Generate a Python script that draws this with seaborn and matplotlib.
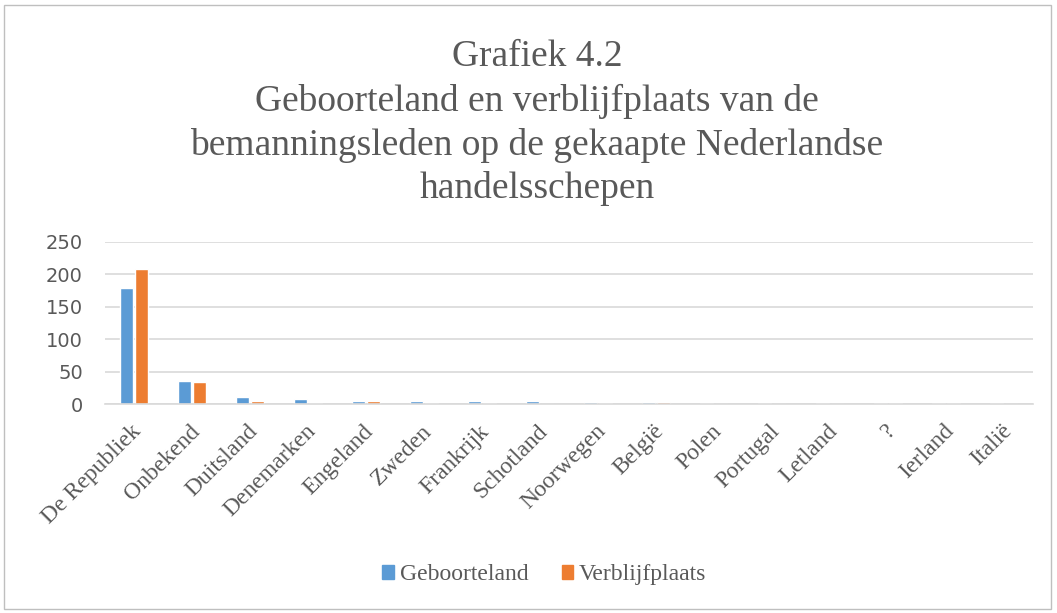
import matplotlib.pyplot as plt
import matplotlib.patches as mpatches
import matplotlib.transforms as mtransforms
import pandas as pd
import seaborn as sns

# values
landen = ["De Republiek", "Onbekend", "Duitsland", "Denemarken", "Engeland", "Zweden",
          "Frankrijk", "Schotland", "Noorwegen", "België", "Polen", "Portugal",
          "Letland", "?", "Ierland", "Italië"]
geboorteland = [179, 35, 11, 7, 5, 5, 4, 4, 3, 3, 2, 1, 1, 1, 1, 1]
verblijfplaats = [208, 34, 4, 2, 4, 1, 1, 0, 1, 3, 0, 0, 0, 1, 1, 0]

df = pd.DataFrame({
    "land": landen * 2,
    "aantal": geboorteland + verblijfplaats,
    "soort": ["Geboorteland"] * len(landen) + ["Verblijfplaats"] * len(landen),
})

sns.set_style("white")
serif = ["Liberation Serif", "DejaVu Serif"]

fig = plt.figure(figsize=(10.57, 6.13), dpi=100)
ax = fig.add_axes([105 / 1057, 209 / 613, 928 / 1057, 162 / 613])

sns.barplot(data=df, x="land", y="aantal", hue="soort",
            palette={"Geboorteland": "#5B9BD5", "Verblijfplaats": "#ED7D31"},
            width=0.52, gap=0.1, saturation=1, ax=ax, legend=False)

ax.set_ylim(0, 250)
ax.set_xlim(-0.5, len(landen) - 0.5)
ax.set_yticks([0, 50, 100, 150, 200, 250])
ax.yaxis.grid(True, color="#d9d9d9", linewidth=1.2)
ax.set_axisbelow(True)
for s in ["top", "right", "left"]:
    ax.spines[s].set_visible(False)
ax.spines["bottom"].set_color("#d9d9d9")
ax.spines["bottom"].set_linewidth(1.2)
ax.tick_params(axis="both", length=0)
ax.tick_params(axis="y", labelsize=14, labelcolor="#595959", pad=16)
ax.tick_params(axis="x", pad=12)
ax.set_xticks(range(len(landen)))
ax.set_xticklabels(landen, rotation=45, ha="right", rotation_mode="anchor",
                   family=serif, fontsize=17, color="#595959")
# nudge the slanted labels a little to the left, like the original
shift = mtransforms.ScaledTranslation(-3 / 100, 0, fig.dpi_scale_trans)
for lbl in ax.get_xticklabels():
    lbl.set_transform(lbl.get_transform() + shift)
ax.set_xlabel("")
ax.set_ylabel("")

fig.text(0.508, 1 - 40 / 613,
         "Grafiek 4.2\nGeboorteland en verblijfplaats van de\n"
         "bemanningsleden op de gekaapte Nederlandse\nhandelsschepen",
         ha="center", va="top", family=serif, fontsize=27, color="#595959",
         linespacing=1.33)

handles = [mpatches.Patch(color="#5B9BD5", label="Geboorteland"),
           mpatches.Patch(color="#ED7D31", label="Verblijfplaats")]
leg = fig.legend(handles=handles, loc="center", bbox_to_anchor=(0.515, 0.062),
                 ncol=2, frameon=False, handlelength=0.5, handleheight=0.5,
                 handletextpad=0.25, columnspacing=1.4,
                 prop={"family": serif, "size": 17})
for t in leg.get_texts():
    t.set_color("#595959")

# chart border
fig.patches.append(mpatches.Rectangle((4 / 1057, 4 / 613), 1047 / 1057, 604 / 613,
                                      transform=fig.transFigure, fill=False,
                                      edgecolor="#bfbfbf", linewidth=1))

fig.savefig("out.png", dpi=100)
